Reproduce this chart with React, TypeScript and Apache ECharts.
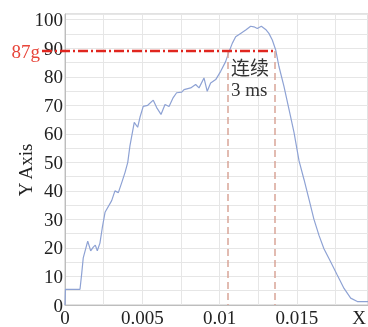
import React, { useEffect, useRef } from "react";
import * as echarts from "echarts";

const timeS: number[] = [
  0, 0.00003, 0.00097, 0.00108, 0.00118, 0.00147, 0.00166, 0.00183, 0.00196, 0.00209,
  0.00226, 0.00241, 0.00259, 0.00302, 0.00323, 0.00345, 0.00367, 0.00388, 0.00406, 0.0042,
  0.00448, 0.0047, 0.00485, 0.00506, 0.00535, 0.00571, 0.00593, 0.00621, 0.00647, 0.00673,
  0.007, 0.00722, 0.00755, 0.0077, 0.00813, 0.00845, 0.00867, 0.00899, 0.0092, 0.00942,
  0.00975, 0.01007, 0.01039, 0.01061, 0.01082, 0.01104, 0.01136, 0.01169, 0.01201, 0.01222,
  0.01244, 0.0127, 0.01298, 0.01319, 0.01341, 0.01363, 0.01384, 0.01416, 0.01449, 0.01481,
  0.01514, 0.01546, 0.01578, 0.0161, 0.01643, 0.01675, 0.01719, 0.01761, 0.01805, 0.01848,
  0.01891, 0.0196,
];
const accel: number[] = [
  0, 5.5, 5.5, 11, 16.5, 22.4, 19, 20.3, 21, 19,
  21.7, 27, 32.5, 36.6, 40, 39.4, 42.9, 46.4, 50, 55.8,
  64, 62.3, 65.8, 69.6, 70, 71.8, 69.2, 66.8, 70.3, 69.6,
  72.7, 74.4, 74.6, 75.5, 76.1, 77.3, 76.1, 79.6, 74.9, 77.8,
  79, 81.9, 85.3, 88.8, 91.7, 94, 95.2, 96.4, 97.7, 97.5,
  96.9, 97.7, 96.6, 95.2, 92.9, 89.4, 83.6, 76.7, 68.6, 60.6,
  50.5, 44, 37.1, 30.1, 24.4, 19.7, 15.1, 10.5, 5.8, 2.4,
  1.2, 1.2,
];
const thresholdLevel = 89;
const thresholdLabel = "87g";
const windowStart = 0.01054;
const windowEnd = 0.01356;
const windowText = ["连续", "3 ms"];
const xTickLabels: number[] = [0, 0.005, 0.01, 0.015];
const yTickLabels: number[] = [0, 10, 20, 30, 40, 50, 60, 70, 80, 90, 100];

const FONT = "'Liberation Serif', 'Times New Roman', serif";
const CJK = "'Liberation Serif', 'Noto Sans CJK SC', serif";

export default function App() {
  const ref = useRef<HTMLDivElement>(null);
  useEffect(() => {
    if (!ref.current) return;
    const chart = echarts.init(ref.current, undefined, { renderer: "svg" });
    const data = timeS.map((t, i) => [t, accel[i]]);
    chart.setOption({
      animation: false,
      grid: {
        left: 65,
        top: 14,
        right: 0,
        bottom: 19.5,
        show: true,
        borderColor: "#c4c4c4",
        borderWidth: 1,
      },
      xAxis: {
        type: "value",
        min: 0,
        max: 0.0196,
        interval: 0.0025,
        axisLine: { show: true, lineStyle: { color: "#bdbdbd", width: 1 } },
        axisTick: { show: false },
        splitLine: { show: true, lineStyle: { color: "#e6e6e6", width: 1 } },
        axisLabel: {
          margin: 3,
          fontFamily: FONT,
          fontSize: 19,
          color: "#222",
          showMaxLabel: false,
          formatter: (v: number) => {
            const hit = xTickLabels.find((t) => Math.abs(t - v) < 1e-7);
            return hit === undefined ? "" : String(hit);
          },
        },
      },
      yAxis: {
        type: "value",
        min: 0,
        max: 102,
        interval: 5,
        axisLine: { show: true, lineStyle: { color: "#bdbdbd", width: 1 } },
        axisTick: { show: false },
        splitLine: { show: true, lineStyle: { color: "#e6e6e6", width: 1 } },
        axisLabel: {
          margin: 2,
          fontFamily: FONT,
          fontSize: 19,
          color: "#222",
          formatter: (v: number) => (yTickLabels.includes(v) ? String(v) : ""),
        },
      },
      series: [
        {
          type: "line",
          data,
          showSymbol: false,
          symbol: "none",
          lineStyle: { color: "#8ea2d4", width: 1.2 },
          markLine: {
            silent: true,
            symbol: "none",
            label: { show: false },
            lineStyle: { color: "#d9a598", width: 1.5, type: [7, 4] },
            data: [
              [{ coord: [windowStart, thresholdLevel] }, { coord: [windowStart, 0] }],
              [{ coord: [windowEnd, thresholdLevel] }, { coord: [windowEnd, 0] }],
            ],
          },
        },
      ],
    });
    const p0 = chart.convertToPixel({ gridIndex: 0 }, [0, thresholdLevel]) as number[];
    const p1 = chart.convertToPixel({ gridIndex: 0 }, [windowEnd, thresholdLevel]) as number[];
    const ps = chart.convertToPixel({ gridIndex: 0 }, [windowStart, thresholdLevel]) as number[];
    const pe = chart.convertToPixel({ gridIndex: 0 }, [0.0196, 0]) as number[];
    chart.setOption({
      graphic: [
        {
          type: "line",
          shape: { x1: p0[0] - 23, y1: p0[1], x2: p1[0], y2: p1[1] },
          style: { stroke: "#e0261f", lineWidth: 2.5, lineDash: [10, 3, 2, 3] },
          z: 10,
        },
        {
          type: "text",
          x: p0[0] - 25,
          y: p0[1],
          style: {
            text: thresholdLabel,
            fill: "#e8453a",
            font: `19px ${FONT}`,
            align: "right",
            verticalAlign: "middle",
          },
        },
        {
          type: "text",
          x: ps[0] + 3,
          y: ps[1] + 7,
          style: {
            text: windowText.join("\n"),
            fill: "#333",
            font: `19px ${CJK}`,
            lineHeight: 21,
            align: "left",
            verticalAlign: "top",
          },
          z: 10,
        },
        {
          type: "text",
          x: 25,
          y: 170,
          rotation: Math.PI / 2,
          style: {
            text: "Y Axis",
            fill: "#222",
            font: `19px ${FONT}`,
            align: "center",
            verticalAlign: "middle",
          },
        },
        {
          type: "text",
          x: pe[0] - 9,
          y: pe[1] + 3,
          style: {
            text: "X",
            fill: "#222",
            font: `19px ${FONT}`,
            align: "center",
            verticalAlign: "top",
          },
        },
      ],
    });
    return () => chart.dispose();
  }, []);
  return (
    <div
      ref={ref}
      style={{ position: "fixed", left: 0, top: 0, width: 368, height: 327 }}
    />
  );
}
